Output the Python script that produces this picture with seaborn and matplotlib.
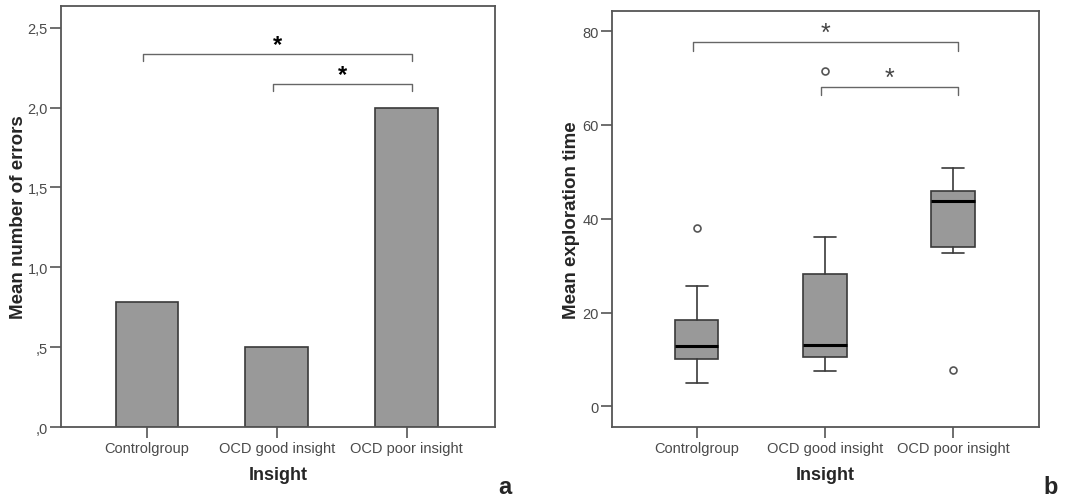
import matplotlib
matplotlib.use("Agg")
import matplotlib.pyplot as plt
import seaborn as sns

sns.set_theme(style="white")
plt.rcParams["font.family"] = ["Liberation Sans", "DejaVu Sans"]

# ============================================================
# DATA
# ============================================================
groups = ["Controlgroup", "OCD good insight", "OCD poor insight"]

# (a) mean number of errors
mean_errors = [0.78, 0.50, 2.00]
err_ticks = [0.0, 0.5, 1.0, 1.5, 2.0, 2.5]
err_ticklabels = [",0", ",5", "1,0", "1,5", "2,0", "2,5"]

# (b) exploration time box statistics
whislo = [5.0, 7.6, 32.6]
q1 = [10.1, 10.5, 34.0]
med = [12.8, 13.1, 43.7]
q3 = [18.4, 28.3, 45.9]
whishi = [25.7, 36.1, 50.8]
fliers = [[38.1], [71.6], [7.8]]
time_ticks = [0, 20, 40, 60, 80]

# significance brackets: (from group, to group, height, drop)
brackets_a = [(0, 2, 2.335, 0.045), (1, 2, 2.15, 0.045)]
brackets_b = [(0, 2, 77.6, 1.8), (1, 2, 68.0, 1.6)]

BAR_GRAY = "#999999"
EDGE = "#3a3a3a"
SPINE = "#555555"
TICKTXT = "#4a4a4a"

fig = plt.figure(figsize=(10.79, 5.02), dpi=100)
ax1 = fig.add_axes([0.0565, 0.1474, 0.4022, 0.8386])
ax2 = fig.add_axes([0.5672, 0.1474, 0.3957, 0.8287])


def style_axes(ax):
    for s in ax.spines.values():
        s.set_color(SPINE)
        s.set_linewidth(1.3)
    ax.tick_params(axis="both", direction="out", length=8, width=1.2,
                   color=SPINE, labelcolor=TICKTXT, labelsize=10.5,
                   left=True, bottom=True)
    ax.tick_params(axis="y", pad=1.5)
    ax.tick_params(axis="x", pad=2)
    ax.set_xlabel("Insight", fontsize=13, fontweight="bold", labelpad=8)


def draw_brackets(ax, brackets, star_kw, star_off):
    for g0, g1, h, d in brackets:
        x0, x1 = g0 - 0.03, g1 + 0.04
        ax.plot([x0, x0, x1, x1], [h - d, h, h, h - d], color="#666666",
                lw=1.0, solid_capstyle="round", solid_joinstyle="round")
        ax.text((x0 + x1) / 2, h + star_off, "*", ha="center", va="bottom",
                **star_kw)


# ------------------------------------------------------------
# (a) bar chart
# ------------------------------------------------------------
sns.barplot(x=groups, y=mean_errors, ax=ax1, color=BAR_GRAY, saturation=1,
            width=0.48, edgecolor=EDGE, linewidth=1.2, errorbar=None)
ax1.set_xlim(-0.66, 2.68)
ax1.set_ylim(0, 2.636)
ax1.set_yticks(err_ticks)
ax1.set_yticklabels(err_ticklabels)
ax1.set_ylabel("Mean number of errors", fontsize=13.5, fontweight="bold")
ax1.yaxis.set_label_coords(-0.078, 0.5)
style_axes(ax1)
draw_brackets(ax1, brackets_a,
              dict(fontsize=17, fontweight="bold", color="black"), -0.012)

# ------------------------------------------------------------
# (b) box plot
# ------------------------------------------------------------
stats = [dict(whislo=whislo[i], q1=q1[i], med=med[i], q3=q3[i],
              whishi=whishi[i], fliers=fliers[i], label=groups[i])
         for i in range(len(groups))]
ax2.bxp(stats, positions=[0, 1, 2], widths=0.34, patch_artist=True,
        showfliers=True, capwidths=0.17,
        boxprops=dict(facecolor=BAR_GRAY, edgecolor=EDGE, linewidth=1.2),
        medianprops=dict(color="black", linewidth=2.2),
        whiskerprops=dict(color=EDGE, linewidth=1.2),
        capprops=dict(color=EDGE, linewidth=1.2),
        flierprops=dict(marker="o", markerfacecolor="white",
                        markeredgecolor="#555555", markersize=5,
                        markeredgewidth=1.2))
ax2.set_xlim(-0.66, 2.67)
ax2.set_ylim(-4.4, 84.3)
ax2.set_yticks(time_ticks)
ax2.set_xticks([0, 1, 2])
ax2.set_xticklabels(groups)
ax2.set_ylabel("Mean exploration time", fontsize=13.5, fontweight="bold")
ax2.yaxis.set_label_coords(-0.075, 0.5)
style_axes(ax2)
draw_brackets(ax2, brackets_b, dict(fontsize=18, color="#444444"), -0.6)

# panel letters
fig.text(0.468, 0.028, "a", ha="center", va="center", fontsize=17,
         fontweight="bold")
fig.text(0.974, 0.028, "b", ha="center", va="center", fontsize=17,
         fontweight="bold")

fig.savefig("out.png", dpi=100)
plt.close(fig)
